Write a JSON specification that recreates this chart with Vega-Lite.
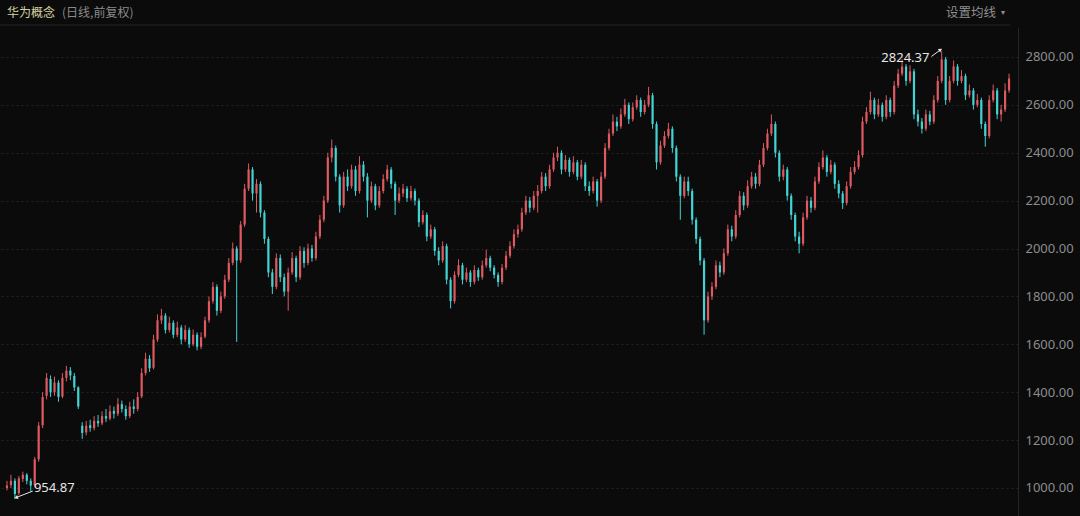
{
  "$schema": "https://vega.github.io/schema/vega-lite/v6.json",
  "width": 1018,
  "height": 489,
  "autosize": {"type": "none"},
  "padding": {"top": 27, "left": 0, "right": 62, "bottom": 0},
  "background": "#0b0b0c",
  "config": {"view": {"stroke": null}, "font": "Noto Sans"},
  "datasets": {
    "k": [
      {"i":0,"o":1000,"h":1030,"l":990,"c":1010},
      {"i":1,"o":1012,"h":1055,"l":1000,"c":1030},
      {"i":2,"o":1030,"h":1040,"l":954.87,"c":975},
      {"i":3,"o":978,"h":1050,"l":970,"c":1040},
      {"i":4,"o":1038,"h":1068,"l":1025,"c":1055},
      {"i":5,"o":1055,"h":1062,"l":1015,"c":1030},
      {"i":6,"o":1030,"h":1040,"l":985,"c":1010},
      {"i":7,"o":1012,"h":1130,"l":1005,"c":1120},
      {"i":8,"o":1120,"h":1275,"l":1110,"c":1260},
      {"i":9,"o":1262,"h":1400,"l":1250,"c":1380},
      {"i":10,"o":1385,"h":1480,"l":1370,"c":1460},
      {"i":11,"o":1455,"h":1470,"l":1380,"c":1400},
      {"i":12,"o":1400,"h":1465,"l":1385,"c":1440},
      {"i":13,"o":1440,"h":1450,"l":1360,"c":1380},
      {"i":14,"o":1382,"h":1480,"l":1375,"c":1460},
      {"i":15,"o":1460,"h":1510,"l":1445,"c":1490},
      {"i":16,"o":1490,"h":1505,"l":1450,"c":1470},
      {"i":17,"o":1468,"h":1480,"l":1405,"c":1420},
      {"i":18,"o":1420,"h":1425,"l":1330,"c":1340},
      {"i":19,"o":1260,"h":1275,"l":1205,"c":1230},
      {"i":20,"o":1232,"h":1280,"l":1220,"c":1260},
      {"i":21,"o":1262,"h":1285,"l":1235,"c":1250},
      {"i":22,"o":1250,"h":1300,"l":1240,"c":1280},
      {"i":23,"o":1280,"h":1305,"l":1255,"c":1270},
      {"i":24,"o":1270,"h":1320,"l":1262,"c":1300},
      {"i":25,"o":1300,"h":1330,"l":1275,"c":1290},
      {"i":26,"o":1290,"h":1345,"l":1282,"c":1320},
      {"i":27,"o":1322,"h":1340,"l":1290,"c":1310},
      {"i":28,"o":1310,"h":1375,"l":1300,"c":1350},
      {"i":29,"o":1350,"h":1365,"l":1315,"c":1330},
      {"i":30,"o":1330,"h":1345,"l":1285,"c":1300},
      {"i":31,"o":1300,"h":1360,"l":1292,"c":1340},
      {"i":32,"o":1340,"h":1370,"l":1310,"c":1330},
      {"i":33,"o":1330,"h":1400,"l":1320,"c":1380},
      {"i":34,"o":1382,"h":1500,"l":1375,"c":1480},
      {"i":35,"o":1480,"h":1565,"l":1470,"c":1540},
      {"i":36,"o":1540,"h":1555,"l":1485,"c":1500},
      {"i":37,"o":1502,"h":1640,"l":1495,"c":1620},
      {"i":38,"o":1620,"h":1725,"l":1610,"c":1700},
      {"i":39,"o":1700,"h":1748,"l":1685,"c":1720},
      {"i":40,"o":1720,"h":1730,"l":1645,"c":1660},
      {"i":41,"o":1660,"h":1715,"l":1650,"c":1690},
      {"i":42,"o":1690,"h":1700,"l":1625,"c":1640},
      {"i":43,"o":1640,"h":1695,"l":1630,"c":1670},
      {"i":44,"o":1670,"h":1680,"l":1600,"c":1620},
      {"i":45,"o":1620,"h":1680,"l":1610,"c":1660},
      {"i":46,"o":1660,"h":1670,"l":1585,"c":1600},
      {"i":47,"o":1600,"h":1662,"l":1592,"c":1640},
      {"i":48,"o":1640,"h":1650,"l":1575,"c":1590},
      {"i":49,"o":1590,"h":1650,"l":1580,"c":1630},
      {"i":50,"o":1632,"h":1715,"l":1625,"c":1700},
      {"i":51,"o":1700,"h":1800,"l":1690,"c":1780},
      {"i":52,"o":1780,"h":1860,"l":1770,"c":1840},
      {"i":53,"o":1840,"h":1850,"l":1720,"c":1740},
      {"i":54,"o":1740,"h":1820,"l":1730,"c":1800},
      {"i":55,"o":1800,"h":1890,"l":1790,"c":1870},
      {"i":56,"o":1870,"h":1960,"l":1860,"c":1940},
      {"i":57,"o":1940,"h":2025,"l":1930,"c":2000},
      {"i":58,"o":2000,"h":2010,"l":1610,"c":1950},
      {"i":59,"o":1950,"h":2115,"l":1940,"c":2100},
      {"i":60,"o":2100,"h":2270,"l":2090,"c":2250},
      {"i":61,"o":2250,"h":2355,"l":2240,"c":2330},
      {"i":62,"o":2330,"h":2340,"l":2200,"c":2230},
      {"i":63,"o":2230,"h":2290,"l":2150,"c":2270},
      {"i":64,"o":2270,"h":2280,"l":2130,"c":2150},
      {"i":65,"o":2150,"h":2160,"l":2020,"c":2040},
      {"i":66,"o":2040,"h":2050,"l":1880,"c":1900},
      {"i":67,"o":1900,"h":1915,"l":1810,"c":1840},
      {"i":68,"o":1840,"h":1980,"l":1830,"c":1960},
      {"i":69,"o":1960,"h":1975,"l":1860,"c":1880},
      {"i":70,"o":1880,"h":1895,"l":1800,"c":1820},
      {"i":71,"o":1820,"h":1920,"l":1740,"c":1900},
      {"i":72,"o":1900,"h":1985,"l":1890,"c":1960},
      {"i":73,"o":1960,"h":1970,"l":1860,"c":1880},
      {"i":74,"o":1880,"h":2010,"l":1870,"c":1990},
      {"i":75,"o":1990,"h":2005,"l":1920,"c":1940},
      {"i":76,"o":1940,"h":2020,"l":1930,"c":2000},
      {"i":77,"o":2000,"h":2015,"l":1945,"c":1960},
      {"i":78,"o":1960,"h":2070,"l":1950,"c":2050},
      {"i":79,"o":2050,"h":2140,"l":2040,"c":2120},
      {"i":80,"o":2120,"h":2220,"l":2110,"c":2200},
      {"i":81,"o":2200,"h":2400,"l":2190,"c":2380},
      {"i":82,"o":2380,"h":2455,"l":2360,"c":2420},
      {"i":83,"o":2420,"h":2430,"l":2280,"c":2300},
      {"i":84,"o":2300,"h":2310,"l":2150,"c":2180},
      {"i":85,"o":2180,"h":2320,"l":2170,"c":2300},
      {"i":86,"o":2300,"h":2330,"l":2240,"c":2260},
      {"i":87,"o":2260,"h":2350,"l":2250,"c":2330},
      {"i":88,"o":2330,"h":2345,"l":2220,"c":2240},
      {"i":89,"o":2240,"h":2385,"l":2230,"c":2350},
      {"i":90,"o":2350,"h":2365,"l":2280,"c":2300},
      {"i":91,"o":2300,"h":2315,"l":2130,"c":2200},
      {"i":92,"o":2200,"h":2280,"l":2190,"c":2260},
      {"i":93,"o":2260,"h":2270,"l":2160,"c":2180},
      {"i":94,"o":2180,"h":2260,"l":2170,"c":2240},
      {"i":95,"o":2240,"h":2310,"l":2230,"c":2290},
      {"i":96,"o":2290,"h":2350,"l":2280,"c":2330},
      {"i":97,"o":2330,"h":2340,"l":2250,"c":2270},
      {"i":98,"o":2270,"h":2280,"l":2140,"c":2200},
      {"i":99,"o":2200,"h":2255,"l":2190,"c":2230},
      {"i":100,"o":2230,"h":2270,"l":2215,"c":2250},
      {"i":101,"o":2250,"h":2260,"l":2195,"c":2210},
      {"i":102,"o":2210,"h":2262,"l":2200,"c":2240},
      {"i":103,"o":2240,"h":2250,"l":2180,"c":2200},
      {"i":104,"o":2200,"h":2210,"l":2090,"c":2110},
      {"i":105,"o":2110,"h":2160,"l":2100,"c":2140},
      {"i":106,"o":2140,"h":2150,"l":2030,"c":2050},
      {"i":107,"o":2050,"h":2100,"l":2040,"c":2080},
      {"i":108,"o":2080,"h":2090,"l":1970,"c":1990},
      {"i":109,"o":1990,"h":2005,"l":1930,"c":1950},
      {"i":110,"o":1950,"h":2030,"l":1940,"c":2010},
      {"i":111,"o":2010,"h":2020,"l":1850,"c":1870},
      {"i":112,"o":1870,"h":1880,"l":1750,"c":1780},
      {"i":113,"o":1780,"h":1905,"l":1770,"c":1890},
      {"i":114,"o":1890,"h":1955,"l":1880,"c":1930},
      {"i":115,"o":1930,"h":1940,"l":1850,"c":1870},
      {"i":116,"o":1870,"h":1920,"l":1860,"c":1900},
      {"i":117,"o":1900,"h":1910,"l":1840,"c":1860},
      {"i":118,"o":1860,"h":1930,"l":1850,"c":1910},
      {"i":119,"o":1910,"h":1920,"l":1865,"c":1880},
      {"i":120,"o":1880,"h":1950,"l":1870,"c":1930},
      {"i":121,"o":1930,"h":1995,"l":1920,"c":1960},
      {"i":122,"o":1960,"h":1970,"l":1905,"c":1920},
      {"i":123,"o":1920,"h":1930,"l":1875,"c":1890},
      {"i":124,"o":1890,"h":1900,"l":1840,"c":1860},
      {"i":125,"o":1860,"h":1935,"l":1850,"c":1920},
      {"i":126,"o":1920,"h":1990,"l":1910,"c":1970},
      {"i":127,"o":1970,"h":2030,"l":1960,"c":2010},
      {"i":128,"o":2010,"h":2080,"l":2000,"c":2060},
      {"i":129,"o":2060,"h":2100,"l":2045,"c":2080},
      {"i":130,"o":2080,"h":2170,"l":2070,"c":2150},
      {"i":131,"o":2150,"h":2220,"l":2140,"c":2200},
      {"i":132,"o":2200,"h":2215,"l":2150,"c":2170},
      {"i":133,"o":2170,"h":2240,"l":2160,"c":2220},
      {"i":134,"o":2220,"h":2265,"l":2150,"c":2240},
      {"i":135,"o":2240,"h":2320,"l":2230,"c":2300},
      {"i":136,"o":2300,"h":2315,"l":2240,"c":2260},
      {"i":137,"o":2260,"h":2350,"l":2250,"c":2330},
      {"i":138,"o":2330,"h":2400,"l":2320,"c":2380},
      {"i":139,"o":2380,"h":2425,"l":2365,"c":2400},
      {"i":140,"o":2400,"h":2410,"l":2310,"c":2330},
      {"i":141,"o":2330,"h":2390,"l":2320,"c":2370},
      {"i":142,"o":2370,"h":2380,"l":2300,"c":2320},
      {"i":143,"o":2320,"h":2385,"l":2310,"c":2360},
      {"i":144,"o":2360,"h":2370,"l":2285,"c":2300},
      {"i":145,"o":2300,"h":2370,"l":2290,"c":2350},
      {"i":146,"o":2350,"h":2360,"l":2240,"c":2260},
      {"i":147,"o":2260,"h":2280,"l":2220,"c":2240},
      {"i":148,"o":2240,"h":2300,"l":2230,"c":2280},
      {"i":149,"o":2280,"h":2290,"l":2175,"c":2200},
      {"i":150,"o":2200,"h":2320,"l":2190,"c":2300},
      {"i":151,"o":2300,"h":2440,"l":2290,"c":2420},
      {"i":152,"o":2420,"h":2500,"l":2410,"c":2480},
      {"i":153,"o":2480,"h":2560,"l":2470,"c":2530},
      {"i":154,"o":2530,"h":2550,"l":2490,"c":2510},
      {"i":155,"o":2510,"h":2585,"l":2500,"c":2560},
      {"i":156,"o":2560,"h":2625,"l":2550,"c":2600},
      {"i":157,"o":2600,"h":2610,"l":2520,"c":2540},
      {"i":158,"o":2540,"h":2610,"l":2530,"c":2590},
      {"i":159,"o":2590,"h":2640,"l":2580,"c":2620},
      {"i":160,"o":2620,"h":2630,"l":2550,"c":2570},
      {"i":161,"o":2570,"h":2620,"l":2560,"c":2600},
      {"i":162,"o":2600,"h":2675,"l":2590,"c":2640},
      {"i":163,"o":2640,"h":2650,"l":2500,"c":2520},
      {"i":164,"o":2520,"h":2530,"l":2330,"c":2360},
      {"i":165,"o":2360,"h":2450,"l":2350,"c":2430},
      {"i":166,"o":2430,"h":2490,"l":2420,"c":2470},
      {"i":167,"o":2470,"h":2525,"l":2460,"c":2500},
      {"i":168,"o":2500,"h":2510,"l":2400,"c":2420},
      {"i":169,"o":2420,"h":2430,"l":2280,"c":2300},
      {"i":170,"o":2300,"h":2310,"l":2120,"c":2220},
      {"i":171,"o":2220,"h":2300,"l":2210,"c":2280},
      {"i":172,"o":2280,"h":2300,"l":2220,"c":2240},
      {"i":173,"o":2240,"h":2250,"l":2100,"c":2120},
      {"i":174,"o":2120,"h":2130,"l":2020,"c":2040},
      {"i":175,"o":2040,"h":2050,"l":1930,"c":1950},
      {"i":176,"o":1950,"h":1960,"l":1640,"c":1700},
      {"i":177,"o":1700,"h":1820,"l":1690,"c":1800},
      {"i":178,"o":1800,"h":1860,"l":1785,"c":1840},
      {"i":179,"o":1840,"h":1950,"l":1830,"c":1930},
      {"i":180,"o":1930,"h":1945,"l":1880,"c":1900},
      {"i":181,"o":1900,"h":2000,"l":1890,"c":1980},
      {"i":182,"o":1980,"h":2100,"l":1970,"c":2080},
      {"i":183,"o":2080,"h":2095,"l":2030,"c":2050},
      {"i":184,"o":2050,"h":2160,"l":2040,"c":2140},
      {"i":185,"o":2140,"h":2240,"l":2130,"c":2220},
      {"i":186,"o":2220,"h":2235,"l":2160,"c":2180},
      {"i":187,"o":2180,"h":2285,"l":2170,"c":2260},
      {"i":188,"o":2260,"h":2320,"l":2250,"c":2300},
      {"i":189,"o":2300,"h":2315,"l":2250,"c":2270},
      {"i":190,"o":2270,"h":2370,"l":2260,"c":2350},
      {"i":191,"o":2350,"h":2440,"l":2340,"c":2420},
      {"i":192,"o":2420,"h":2500,"l":2410,"c":2480},
      {"i":193,"o":2480,"h":2560,"l":2470,"c":2520},
      {"i":194,"o":2520,"h":2530,"l":2380,"c":2400},
      {"i":195,"o":2400,"h":2410,"l":2280,"c":2300},
      {"i":196,"o":2300,"h":2350,"l":2285,"c":2330},
      {"i":197,"o":2330,"h":2340,"l":2200,"c":2220},
      {"i":198,"o":2220,"h":2230,"l":2120,"c":2140},
      {"i":199,"o":2140,"h":2150,"l":2030,"c":2050},
      {"i":200,"o":2050,"h":2070,"l":1980,"c":2020},
      {"i":201,"o":2020,"h":2150,"l":2010,"c":2130},
      {"i":202,"o":2130,"h":2220,"l":2120,"c":2200},
      {"i":203,"o":2200,"h":2215,"l":2150,"c":2170},
      {"i":204,"o":2170,"h":2300,"l":2160,"c":2280},
      {"i":205,"o":2280,"h":2360,"l":2270,"c":2340},
      {"i":206,"o":2340,"h":2410,"l":2330,"c":2380},
      {"i":207,"o":2380,"h":2390,"l":2300,"c":2320},
      {"i":208,"o":2320,"h":2370,"l":2310,"c":2350},
      {"i":209,"o":2350,"h":2360,"l":2250,"c":2270},
      {"i":210,"o":2270,"h":2285,"l":2210,"c":2230},
      {"i":211,"o":2230,"h":2240,"l":2165,"c":2190},
      {"i":212,"o":2190,"h":2280,"l":2180,"c":2260},
      {"i":213,"o":2260,"h":2340,"l":2250,"c":2320},
      {"i":214,"o":2320,"h":2365,"l":2310,"c":2340},
      {"i":215,"o":2340,"h":2410,"l":2330,"c":2390},
      {"i":216,"o":2390,"h":2550,"l":2380,"c":2530},
      {"i":217,"o":2530,"h":2590,"l":2520,"c":2570},
      {"i":218,"o":2570,"h":2655,"l":2560,"c":2620},
      {"i":219,"o":2620,"h":2630,"l":2540,"c":2560},
      {"i":220,"o":2560,"h":2625,"l":2550,"c":2600},
      {"i":221,"o":2600,"h":2610,"l":2530,"c":2550},
      {"i":222,"o":2550,"h":2640,"l":2540,"c":2620},
      {"i":223,"o":2620,"h":2630,"l":2550,"c":2570},
      {"i":224,"o":2570,"h":2700,"l":2560,"c":2680},
      {"i":225,"o":2680,"h":2750,"l":2670,"c":2730},
      {"i":226,"o":2730,"h":2790,"l":2720,"c":2760},
      {"i":227,"o":2760,"h":2770,"l":2680,"c":2700},
      {"i":228,"o":2700,"h":2765,"l":2690,"c":2740},
      {"i":229,"o":2740,"h":2750,"l":2540,"c":2560},
      {"i":230,"o":2560,"h":2580,"l":2510,"c":2530},
      {"i":231,"o":2530,"h":2545,"l":2480,"c":2500},
      {"i":232,"o":2500,"h":2580,"l":2490,"c":2560},
      {"i":233,"o":2560,"h":2575,"l":2515,"c":2530},
      {"i":234,"o":2530,"h":2640,"l":2520,"c":2620},
      {"i":235,"o":2620,"h":2720,"l":2610,"c":2700},
      {"i":236,"o":2700,"h":2824.37,"l":2690,"c":2790},
      {"i":237,"o":2790,"h":2800,"l":2600,"c":2620},
      {"i":238,"o":2620,"h":2720,"l":2610,"c":2700},
      {"i":239,"o":2700,"h":2785,"l":2690,"c":2760},
      {"i":240,"o":2760,"h":2770,"l":2680,"c":2700},
      {"i":241,"o":2700,"h":2745,"l":2690,"c":2720},
      {"i":242,"o":2720,"h":2730,"l":2620,"c":2640},
      {"i":243,"o":2640,"h":2685,"l":2630,"c":2660},
      {"i":244,"o":2660,"h":2670,"l":2580,"c":2600},
      {"i":245,"o":2600,"h":2645,"l":2590,"c":2620},
      {"i":246,"o":2620,"h":2630,"l":2500,"c":2520},
      {"i":247,"o":2520,"h":2530,"l":2425,"c":2470},
      {"i":248,"o":2470,"h":2640,"l":2460,"c":2620},
      {"i":249,"o":2620,"h":2685,"l":2610,"c":2660},
      {"i":250,"o":2660,"h":2670,"l":2540,"c":2560},
      {"i":251,"o":2560,"h":2600,"l":2530,"c":2580},
      {"i":252,"o":2580,"h":2690,"l":2570,"c":2660},
      {"i":253,"o":2660,"h":2730,"l":2650,"c":2710}
    ]
  },
  "layer": [
    {
      "data": {"name": "k"},
      "mark": {"type": "rule", "strokeWidth": 1},
      "encoding": {
        "x": {"field": "i", "type": "quantitative", "scale": {"domain": [-0.5, 254], "nice": false, "zero": false}, "axis": null},
        "y": {"field": "l", "type": "quantitative", "title": null, "scale": {"domain": [883, 2925], "nice": false, "zero": false},
          "axis": {"orient": "right", "title": null, "values": [1000, 1200, 1400, 1600, 1800, 2000, 2200, 2400, 2600, 2800], "format": ".2f",
            "labelColor": "#8c8c8c", "labelFontSize": 13, "labelFont": "Noto Sans", "ticks": false, "labelPadding": 7,
            "domain": true, "domainColor": "#262626", "grid": true, "gridColor": "#242424", "gridDash": [2, 3]}},
        "y2": {"field": "h"},
        "color": {"condition": {"test": "datum.c >= datum.o", "value": "#de5a60"}, "value": "#43d3d3"}
      }
    },
    {
      "data": {"name": "k"},
      "mark": {"type": "bar", "width": 2.2},
      "encoding": {
        "x": {"field": "i", "type": "quantitative", "scale": {"domain": [-0.5, 254], "nice": false, "zero": false}, "axis": null},
        "y": {"field": "o", "type": "quantitative", "title": null, "scale": {"domain": [883, 2925], "nice": false, "zero": false}},
        "y2": {"field": "c"},
        "color": {"condition": {"test": "datum.c >= datum.o", "value": "#de5a60"}, "value": "#43d3d3"}
      }
    },
    {
      "data": {"values": [{"label": "2824.37", "ti": 232.9, "tv": 2795, "x1": 233.4, "y1": 2802, "x2": 235.7, "y2": 2830}]},
      "layer": [
        {"mark": {"type": "text", "align": "right", "baseline": "middle", "fontSize": 13, "color": "#e6e6e6", "font": "Noto Sans"},
          "encoding": {
            "x": {"field": "ti", "type": "quantitative", "scale": {"domain": [-0.5, 254], "nice": false, "zero": false}, "axis": null},
            "y": {"field": "tv", "type": "quantitative", "title": null, "scale": {"domain": [883, 2925], "nice": false, "zero": false}},
            "text": {"field": "label"}}},
        {"mark": {"type": "rule", "color": "#e6e6e6", "strokeWidth": 1},
          "encoding": {
            "x": {"field": "x1", "type": "quantitative", "scale": {"domain": [-0.5, 254], "nice": false, "zero": false}, "axis": null},
            "y": {"field": "y1", "type": "quantitative", "title": null, "scale": {"domain": [883, 2925], "nice": false, "zero": false}},
            "x2": {"field": "x2"}, "y2": {"field": "y2"}}},
        {"mark": {"type": "point", "shape": "triangle-up", "filled": true, "size": 18, "angle": 57, "color": "#e6e6e6", "opacity": 1},
          "encoding": {
            "x": {"field": "x2", "type": "quantitative", "scale": {"domain": [-0.5, 254], "nice": false, "zero": false}, "axis": null},
            "y": {"field": "y2", "type": "quantitative", "title": null, "scale": {"domain": [883, 2925], "nice": false, "zero": false}}}}
      ]
    },
    {
      "data": {"values": [{"label": "954.87", "ti": 6.8, "tv": 1000, "x1": 6.5, "y1": 987, "x2": 2.3, "y2": 960}]},
      "layer": [
        {"mark": {"type": "text", "align": "left", "baseline": "middle", "fontSize": 13, "color": "#e6e6e6", "font": "Noto Sans"},
          "encoding": {
            "x": {"field": "ti", "type": "quantitative", "scale": {"domain": [-0.5, 254], "nice": false, "zero": false}, "axis": null},
            "y": {"field": "tv", "type": "quantitative", "title": null, "scale": {"domain": [883, 2925], "nice": false, "zero": false}},
            "text": {"field": "label"}}},
        {"mark": {"type": "rule", "color": "#e6e6e6", "strokeWidth": 1},
          "encoding": {
            "x": {"field": "x1", "type": "quantitative", "scale": {"domain": [-0.5, 254], "nice": false, "zero": false}, "axis": null},
            "y": {"field": "y1", "type": "quantitative", "title": null, "scale": {"domain": [883, 2925], "nice": false, "zero": false}},
            "x2": {"field": "x2"}, "y2": {"field": "y2"}}},
        {"mark": {"type": "point", "shape": "triangle-up", "filled": true, "size": 18, "angle": 252, "color": "#e6e6e6", "opacity": 1},
          "encoding": {
            "x": {"field": "x2", "type": "quantitative", "scale": {"domain": [-0.5, 254], "nice": false, "zero": false}, "axis": null},
            "y": {"field": "y2", "type": "quantitative", "title": null, "scale": {"domain": [883, 2925], "nice": false, "zero": false}}}}
      ]
    },
    {
      "data": {"values": [{"t": "华为概念"}]},
      "mark": {"type": "text", "align": "left", "baseline": "middle", "fontSize": 12, "color": "#d8d3a2", "font": "Noto Sans CJK SC"},
      "encoding": {"x": {"value": 7}, "y": {"value": -14}, "text": {"field": "t"}}
    },
    {
      "data": {"values": [{"t": "(日线,前复权)"}]},
      "mark": {"type": "text", "align": "left", "baseline": "middle", "fontSize": 12, "color": "#8a8a8a", "font": "Noto Sans CJK SC"},
      "encoding": {"x": {"value": 62}, "y": {"value": -14}, "text": {"field": "t"}}
    },
    {
      "data": {"values": [{"t": "设置均线"}]},
      "mark": {"type": "text", "align": "left", "baseline": "middle", "fontSize": 12.5, "color": "#8f8f8f", "font": "Noto Sans CJK SC"},
      "encoding": {"x": {"value": 946}, "y": {"value": -14}, "text": {"field": "t"}}
    },
    {
      "data": {"values": [{"t": "▾"}]},
      "mark": {"type": "text", "align": "left", "baseline": "middle", "fontSize": 8, "color": "#8f8f8f", "font": "DejaVu Sans"},
      "encoding": {"x": {"value": 1001}, "y": {"value": -14}, "text": {"field": "t"}}
    },
    {
      "data": {"values": [{}]},
      "mark": {"type": "rule", "color": "#242424", "strokeWidth": 1},
      "encoding": {"x": {"value": 0}, "x2": {"value": 1010}, "y": {"value": -2}}
    }
  ]
}
